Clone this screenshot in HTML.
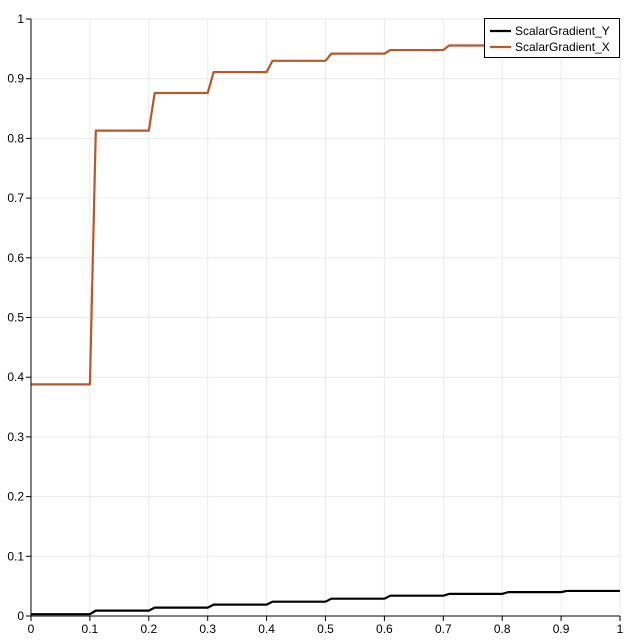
<!DOCTYPE html>
<html><head><meta charset="utf-8"><style>body{margin:0;background:#fff}svg{display:block}text{font-family:"Liberation Sans",sans-serif;font-size:12px;fill:#000}</style></head>
<body><svg id="s" width="640" height="640" xmlns="http://www.w3.org/2000/svg"></svg>
<script>
const s=document.getElementById('s');
const X=v=>31+589*v, Y=v=>616-597*v;
let h='';
for(let i=1;i<=10;i++){h+=`<line x1="${X(i/10)}" y1="19" x2="${X(i/10)}" y2="616" stroke="#ebebeb"/>`;h+=`<line x1="31" y1="${Y(i/10)}" x2="620" y2="${Y(i/10)}" stroke="#ebebeb"/>`;}
function series(vals,col){let p=[];for(let i=0;i<10;i++){p.push([X(i/10+(i?0.01:0)),Y(vals[i])]);p.push([X(i/10+0.1),Y(vals[i])]);}
return `<polyline fill="none" stroke="${col}" stroke-width="2.2" stroke-linejoin="round" points="${p.map(q=>q.join(',')).join(' ')}"/>`;}
h+=series([0.388,0.813,0.876,0.911,0.930,0.942,0.948,0.9556,0.959,0.962],'#b5582a');
h+=series([0.003,0.009,0.014,0.019,0.024,0.029,0.034,0.037,0.040,0.042],'#000');
h+=`<line x1="31" y1="19" x2="31" y2="616" stroke="#000"/><line x1="31" y1="616" x2="620" y2="616" stroke="#000"/>`;
for(let i=0;i<=10;i++){const l=i==0?'0':i==10?'1':'0.'+i;
h+=`<line x1="${X(i/10)}" y1="616" x2="${X(i/10)}" y2="621" stroke="#000"/><text x="${X(i/10)}" y="633" text-anchor="middle">${l}</text>`;
h+=`<line x1="26" y1="${Y(i/10)}" x2="31" y2="${Y(i/10)}" stroke="#000"/><text x="24" y="${Y(i/10)+4}" text-anchor="end">${l}</text>`;}
h+=`<rect x="484.5" y="18.5" width="135" height="39" fill="#fff" stroke="#000"/>`;
h+=`<line x1="490" y1="31" x2="511" y2="31" stroke="#000" stroke-width="2.2"/><text x="515" y="35">ScalarGradient_Y</text>`;
h+=`<line x1="490" y1="47" x2="511" y2="47" stroke="#b5582a" stroke-width="2.2"/><text x="515" y="51">ScalarGradient_X</text>`;
s.innerHTML=h;
</script></body></html>
